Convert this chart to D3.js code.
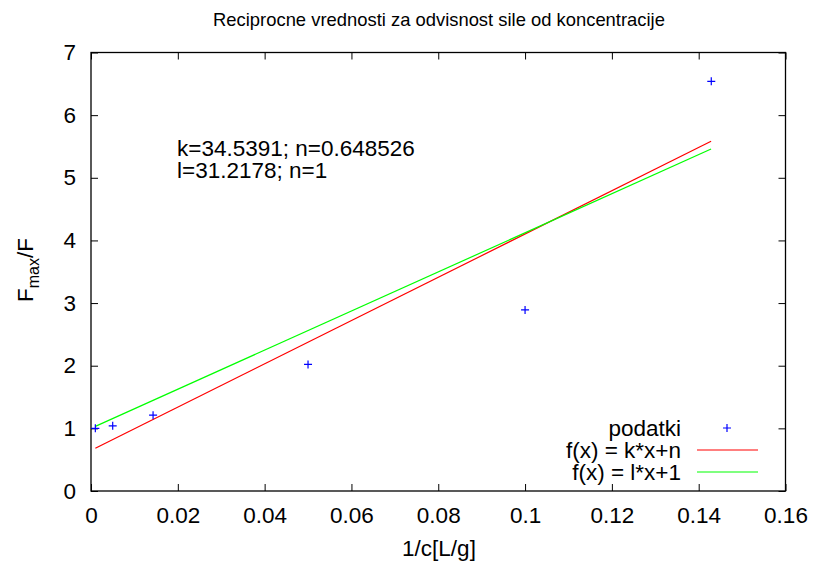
<!DOCTYPE html>
<html><head><meta charset="utf-8">
<script src="https://cdn.jsdelivr.net/npm/d3@7"></script>
<style>body{margin:0;background:#fff}svg{display:block;font-family:"Liberation Sans",Arial,sans-serif}</style>
</head><body><svg id="c" width="817" height="566"></svg>
<script>
const xData = [0.001, 0.005, 0.0143, 0.05, 0.1, 0.1429];
const yData = [1.0, 1.04, 1.21, 2.02, 2.89, 6.54];
const xTicks = [0, 0.02, 0.04, 0.06, 0.08, 0.1, 0.12, 0.14, 0.16];
const yTicks = [0, 1, 2, 3, 4, 5, 6, 7];
const fitK = 34.5391, fitN = 0.648526, fitL = 31.2178;
const fitRange = [0.001, 1/7];
const legendLabels = ["podatki", "f(x) = k*x+n", "f(x) = l*x+1"];
const colors = ["#0000ff", "#ff0000", "#00ff00"];

const FS = 22.5;
const svg = d3.select("#c");
const L = 91, R = 785.5, T = 52.5, B = 491;
const x = d3.scaleLinear().domain([0, 0.16]).range([L, R]);
const y = d3.scaleLinear().domain([0, 7]).range([B, T]);
const fmtX = d => d === 0 ? "0" : String(+d.toFixed(2));

function styleAxis(g){ g.select(".domain").remove(); g.selectAll("line").attr("stroke","#000"); g.selectAll("text").attr("fill","#000"); }
svg.append("g").attr("transform",`translate(0,${B})`)
  .call(d3.axisBottom(x).tickValues(xTicks).tickSize(-7).tickPadding(16).tickFormat(fmtX))
  .call(styleAxis).selectAll("text").attr("font-size",FS).attr("font-family","Liberation Sans, Arial, sans-serif");
svg.append("g").attr("transform",`translate(0,${T})`)
  .call(d3.axisTop(x).tickValues(xTicks).tickSize(-7).tickFormat(""))
  .call(styleAxis);
svg.append("g").attr("transform",`translate(${L},0)`)
  .call(d3.axisLeft(y).tickValues(yTicks).tickSize(-7).tickPadding(15).tickFormat(d3.format("d")))
  .call(styleAxis).selectAll("text").attr("font-size",FS).attr("font-family","Liberation Sans, Arial, sans-serif");
svg.append("g").attr("transform",`translate(${R},0)`)
  .call(d3.axisRight(y).tickValues(yTicks).tickSize(-7).tickFormat(""))
  .call(styleAxis);

svg.append("rect").attr("x",L).attr("y",T).attr("width",R-L).attr("height",B-T)
  .attr("fill","none").attr("stroke","#000").attr("stroke-width",1.3);

// fit lines
const line = d3.line().x(d=>x(d[0])).y(d=>y(d[1]));
svg.append("path").datum(fitRange.map(v=>[v, fitK*v+fitN])).attr("d",line).attr("stroke",colors[1]).attr("fill","none").attr("stroke-width",1.2);
svg.append("path").datum(fitRange.map(v=>[v, fitL*v+1])).attr("d",line).attr("stroke",colors[2]).attr("fill","none").attr("stroke-width",1.2);

// points
const plus = (g, cx, cy) => {
  g.append("path").attr("d",`M${cx-4},${cy}H${cx+4}M${cx},${cy-4}V${cy+4}`).attr("stroke",colors[0]).attr("stroke-width",1.2).attr("fill","none");
};
const pg = svg.append("g");
xData.forEach((v,i)=>plus(pg, x(v), y(yData[i])));

// legend
const legX = 681, legY = [428, 450, 472];
legendLabels.forEach((t,i)=>{
  svg.append("text").attr("x",legX).attr("y",legY[i]).attr("dy","0.35em").attr("text-anchor","end")
    .attr("font-size",FS).text(t);
  if(i===0) plus(svg, 727, legY[i]);
  else svg.append("line").attr("x1",697).attr("x2",758).attr("y1",legY[i]).attr("y2",legY[i]).attr("stroke",colors[i]).attr("stroke-width",1.2);
});

// annotations
svg.append("text").attr("x",177).attr("y",148).attr("dy","0.35em").attr("font-size",FS).text(`k=${fitK}; n=${fitN}`);
svg.append("text").attr("x",177).attr("y",170).attr("dy","0.35em").attr("font-size",FS).text(`l=${fitL}; n=1`);

// title
svg.append("text").attr("x",439).attr("y",20).attr("dy","0.35em").attr("text-anchor","middle").attr("font-size",18.4)
  .text("Reciprocne vrednosti za odvisnost sile od koncentracije");
// x label
svg.append("text").attr("x",439).attr("y",548).attr("dy","0.35em").attr("text-anchor","middle").attr("font-size",FS).text("1/c[L/g]");
// y label
const yl = svg.append("text").attr("transform","translate(33,270) rotate(-90)").attr("text-anchor","middle").attr("font-size",FS);
yl.append("tspan").text("F");
yl.append("tspan").attr("font-size",16).attr("dy",6).text("max");
yl.append("tspan").attr("dy",-6).text("/F");
</script></body></html>
